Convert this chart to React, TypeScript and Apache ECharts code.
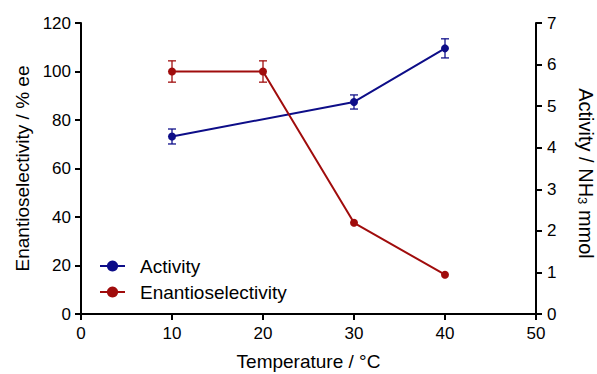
import React, { useEffect, useRef } from "react";
import * as echarts from "echarts";

const temperatures = [0, 10, 20, 30, 40, 50];
const activityTemps = [10, 30, 40];
const activityValues = [4.27, 5.1, 6.39];
const activityErrors = [0.18, 0.17, 0.23];
const eeTemps = [10, 20, 30, 40];
const eeValues = [100, 100, 37.6, 16.2];
const eeErrors = [4.4, 4.4, 0, 0];

const BLUE = "#0d0d88";
const RED = "#a00c0c";
const FONT = 'Arial, "Liberation Sans", sans-serif';

function errorBarSeries(name: string, xs: number[], ys: number[], errs: number[], color: string, yAxisIndex: number) {
  const data = xs
    .map((x, i) => [x, ys[i] - errs[i], ys[i] + errs[i]])
    .filter((d, i) => errs[i] > 0);
  return {
    type: "custom",
    name: name + "-err",
    xAxisIndex: 0,
    yAxisIndex,
    z: 1,
    silent: true,
    encode: { x: 0, y: [1, 2] },
    data,
    renderItem: (params: any, api: any) => {
      const x = api.value(0);
      const lo = api.value(1);
      const hi = api.value(2);
      const top = api.coord([x, hi]);
      const bot = api.coord([x, lo]);
      const half = 4;
      const style = { stroke: color, lineWidth: 1.5, opacity: 0.85 };
      return {
        type: "group",
        children: [
          { type: "line", shape: { x1: top[0], y1: top[1], x2: bot[0], y2: bot[1] }, style },
          { type: "line", shape: { x1: top[0] - half, y1: top[1], x2: top[0] + half, y2: top[1] }, style },
          { type: "line", shape: { x1: bot[0] - half, y1: bot[1], x2: bot[0] + half, y2: bot[1] }, style },
        ],
      };
    },
  };
}

export default function App() {
  const ref = useRef<HTMLDivElement>(null);
  useEffect(() => {
    if (!ref.current) return;
    const chart = echarts.init(ref.current, undefined, { renderer: "svg" });
    const axisLine = { show: true, lineStyle: { color: "#000", width: 2 } };
    const axisTick = { show: true, inside: false, length: 6, lineStyle: { color: "#000", width: 2 } };
    const axisLabel = { color: "#000", fontSize: 17, fontFamily: FONT };
    const nameStyle = { color: "#000", fontSize: 19, fontFamily: FONT };
    chart.setOption({
      animation: false,
      backgroundColor: "#fff",
      grid: { left: 81, right: 61, top: 23, bottom: 60, containLabel: false, outerBoundsMode: "none" },
      legend: {
        orient: "vertical",
        left: 94,
        top: 251,
        data: ["Activity", "Enantioselectivity"],
        itemWidth: 25,
        itemHeight: 14,
        itemGap: 6,
        textStyle: { color: "#000", fontSize: 19, fontFamily: FONT, lineHeight: 20, padding: [0, 0, 0, 10] },
      },
      xAxis: {
        type: "value",
        min: temperatures[0],
        max: temperatures[temperatures.length - 1],
        interval: 10,
        splitLine: { show: false },
        axisLine,
        axisTick,
        axisLabel: { ...axisLabel, margin: 11 },
        name: "Temperature / °C",
        nameLocation: "middle",
        nameGap: 38,
        nameTextStyle: nameStyle,
      },
      yAxis: [
        {
          type: "value",
          position: "left",
          min: 0,
          max: 120,
          interval: 20,
          splitLine: { show: false },
          axisLine,
          axisTick,
          axisLabel: { ...axisLabel, margin: 10 },
          name: "Enantioselectivity / % ee",
          nameLocation: "middle",
          nameGap: 47,
          nameTextStyle: nameStyle,
        },
        {
          type: "value",
          position: "right",
          min: 0,
          max: 7,
          interval: 1,
          splitLine: { show: false },
          axisLine,
          axisTick,
          axisLabel: { ...axisLabel, margin: 11 },
          name: "Activity / NH{sub|3} mmol",
          nameLocation: "middle",
          nameRotate: -90,
          nameGap: 40,
          nameTextStyle: {
            ...nameStyle,
            fontSize: 20,
            lineHeight: 20,
            padding: [0, 0, 0, 10],
            rich: { sub: { fontSize: 13, fontFamily: FONT, color: "#000", lineHeight: 2, verticalAlign: "bottom" } },
          },
        },
      ],
      series: [
        errorBarSeries("Activity", activityTemps, activityValues, activityErrors, BLUE, 1),
        errorBarSeries("Enantioselectivity", eeTemps, eeValues, eeErrors, RED, 0),
        {
          type: "line",
          name: "Activity",
          yAxisIndex: 1,
          z: 3,
          data: activityTemps.map((x, i) => [x, activityValues[i]]),
          symbol: "circle",
          symbolSize: 8,
          lineStyle: { color: BLUE, width: 2 },
          itemStyle: { color: BLUE },
        },
        {
          type: "line",
          name: "Enantioselectivity",
          yAxisIndex: 0,
          z: 3,
          data: eeTemps.map((x, i) => [x, eeValues[i]]),
          symbol: "circle",
          symbolSize: 8,
          lineStyle: { color: RED, width: 2 },
          itemStyle: { color: RED },
        },
      ],
    });
    return () => chart.dispose();
  }, []);
  return <div ref={ref} style={{ position: "fixed", left: 0, top: 0, width: 597, height: 374 }} />;
}
